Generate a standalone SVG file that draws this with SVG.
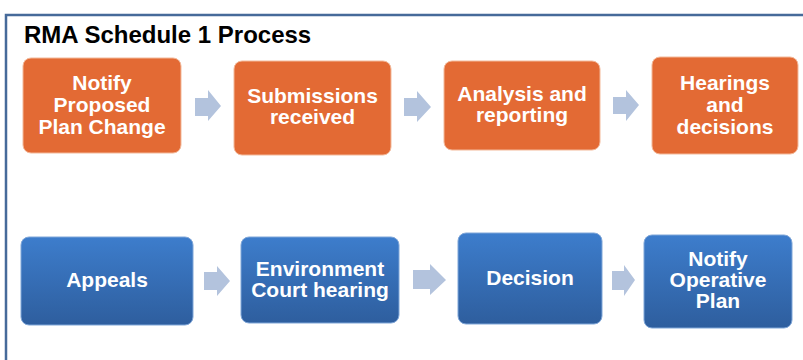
<svg xmlns="http://www.w3.org/2000/svg" width="803" height="360" viewBox="0 0 803 360">
<defs>
<linearGradient id="blue" x1="0" y1="0" x2="0" y2="1">
<stop offset="0" stop-color="#3d7dcc"/>
<stop offset="1" stop-color="#2e5e9e"/>
</linearGradient>
<style>
.lbl{font-family:"Liberation Sans",Arial,sans-serif;font-weight:bold;font-size:21px;fill:#ffffff;text-anchor:middle}
.org{fill:#e36a34;stroke:#f3b99a;stroke-width:1}
.blu{fill:url(#blue);stroke:#7fa6d8;stroke-width:1}
.arr{fill:#b3c3dd}
.title{font-family:"Liberation Sans",Arial,sans-serif;font-weight:bold;font-size:24px;fill:#000000}
</style>
</defs>
<rect width="803" height="360" fill="#ffffff"/>
<g id="frame">
<path d="M6 360 V15 H803" fill="none" stroke="#466a9a" stroke-width="2.5"/>
</g>
<text class="title" x="24" y="43">RMA Schedule 1 Process</text>
<g id="connectors">
<polygon class="arr" points="195,98 208,98 208,90 221,106 208,121 208,116 195,116"/>
<polygon class="arr" points="404,98 417,98 417,91 431,107 417,122 417,116 404,116"/>
<polygon class="arr" points="613,97 626,97 626,90 639,105 626,121 626,114 613,114"/>
<polygon class="arr" points="204,272 217,272 217,266 230,281 217,296 217,290 204,290"/>
<polygon class="arr" points="413,270 430,270 430,264 446,280 430,295 430,289 413,289"/>
<polygon class="arr" points="612,271 624,271 624,265 635,280 624,296 624,290 612,290"/>
</g>
<g id="n1">
<rect class="org" x="23" y="58" width="158" height="95" rx="8"/>
<text class="lbl" x="102" y="90">Notify</text>
<text class="lbl" x="102" y="112">Proposed</text>
<text class="lbl" x="102" y="134">Plan Change</text>
</g>
<g id="n2">
<rect class="org" x="234" y="61" width="157" height="94" rx="8"/>
<text class="lbl" x="312.5" y="103">Submissions</text>
<text class="lbl" x="312.5" y="124">received</text>
</g>
<g id="n3">
<rect class="org" x="444" y="61" width="156" height="89" rx="8"/>
<text class="lbl" x="522" y="101">Analysis and</text>
<text class="lbl" x="522" y="122">reporting</text>
</g>
<g id="n4">
<rect class="org" x="652" y="57" width="146" height="97" rx="8"/>
<text class="lbl" x="725" y="90">Hearings</text>
<text class="lbl" x="725" y="112">and</text>
<text class="lbl" x="725" y="134">decisions</text>
</g>
<g id="n5">
<rect class="blu" x="21" y="237" width="172" height="88" rx="8"/>
<text class="lbl" x="107" y="287">Appeals</text>
</g>
<g id="n6">
<rect class="blu" x="241" y="237" width="158" height="86" rx="8"/>
<text class="lbl" x="320" y="276">Environment</text>
<text class="lbl" x="320" y="297">Court hearing</text>
</g>
<g id="n7">
<rect class="blu" x="458" y="233" width="144" height="91" rx="8"/>
<text class="lbl" x="530" y="285">Decision</text>
</g>
<g id="n8">
<rect class="blu" x="644" y="235" width="148" height="93" rx="8"/>
<text class="lbl" x="718" y="266">Notify</text>
<text class="lbl" x="718" y="287">Operative</text>
<text class="lbl" x="718" y="308">Plan</text>
</g>
</svg>
